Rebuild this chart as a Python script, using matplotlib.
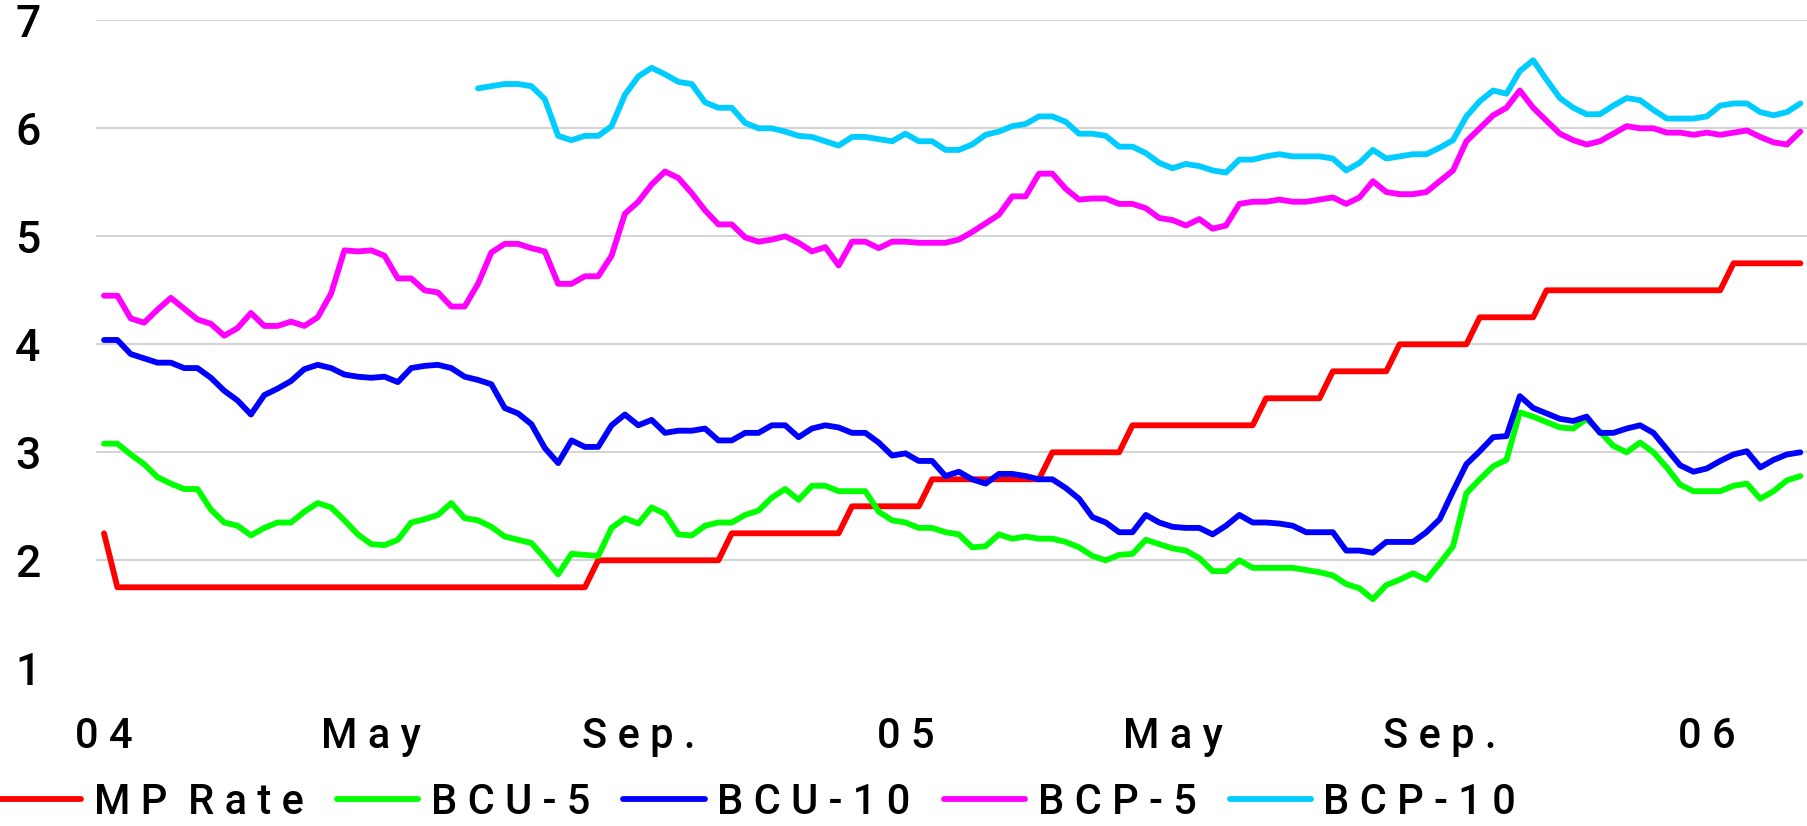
import numpy as np
import matplotlib
matplotlib.use("Agg")
import matplotlib.pyplot as plt
from matplotlib import font_manager

# categories: 128 observations, label every 20th
tick_idx = [0, 20, 40, 60, 80, 100, 120]
tick_labels = ["0 4", "M a y", "S e p .", "0 5", "M a y", "S e p .", "0 6"]

mp_rate = ([2.25] + [1.75] * 36 + [2.0] * 10 + [2.25] * 9 + [2.5] * 6 + [2.75] * 9
           + [3.0] * 6 + [3.25] * 10 + [3.5] * 5 + [3.75] * 5 + [4.0] * 6 + [4.25] * 5
           + [4.5] * 14 + [4.75] * 6)

bcu5 = [3.08, 3.08, 2.98, 2.89, 2.77, 2.71, 2.66, 2.66, 2.47, 2.35,
        2.32, 2.23, 2.30, 2.35, 2.35, 2.45, 2.53, 2.49, 2.37, 2.24,
        2.15, 2.14, 2.19, 2.35, 2.38, 2.42, 2.53, 2.39, 2.37, 2.31,
        2.22, 2.19, 2.16, 2.02, 1.87, 2.06, 2.05, 2.04, 2.30, 2.39,
        2.34, 2.49, 2.43, 2.24, 2.23, 2.32, 2.35, 2.35, 2.42, 2.46,
        2.58, 2.66, 2.56, 2.69, 2.69, 2.64, 2.64, 2.64, 2.45, 2.37,
        2.35, 2.30, 2.30, 2.26, 2.24, 2.12, 2.13, 2.24, 2.20, 2.22,
        2.20, 2.20, 2.17, 2.12, 2.04, 2.00, 2.05, 2.06, 2.19, 2.15,
        2.11, 2.09, 2.02, 1.90, 1.90, 2.00, 1.93, 1.93, 1.93, 1.93,
        1.91, 1.89, 1.86, 1.78, 1.74, 1.64, 1.77, 1.82, 1.88, 1.82,
        1.97, 2.13, 2.62, 2.75, 2.87, 2.93, 3.37, 3.33, 3.28, 3.23,
        3.22, 3.31, 3.19, 3.06, 3.00, 3.09, 3.00, 2.86, 2.70, 2.64,
        2.64, 2.64, 2.69, 2.71, 2.57, 2.64, 2.74, 2.78]

bcu10 = [4.04, 4.04, 3.91, 3.87, 3.83, 3.83, 3.78, 3.78, 3.69, 3.57,
         3.48, 3.35, 3.53, 3.59, 3.66, 3.77, 3.81, 3.78, 3.72, 3.70,
         3.69, 3.70, 3.65, 3.78, 3.80, 3.81, 3.78, 3.70, 3.67, 3.63,
         3.41, 3.36, 3.26, 3.04, 2.90, 3.11, 3.05, 3.05, 3.25, 3.35,
         3.25, 3.30, 3.18, 3.20, 3.20, 3.22, 3.11, 3.11, 3.18, 3.18,
         3.25, 3.25, 3.14, 3.22, 3.25, 3.23, 3.18, 3.18, 3.09, 2.97,
         2.99, 2.92, 2.92, 2.78, 2.82, 2.75, 2.71, 2.80, 2.80, 2.78,
         2.75, 2.75, 2.67, 2.57, 2.40, 2.35, 2.26, 2.26, 2.42, 2.35,
         2.31, 2.30, 2.30, 2.24, 2.32, 2.42, 2.35, 2.35, 2.34, 2.32,
         2.26, 2.26, 2.26, 2.09, 2.09, 2.07, 2.17, 2.17, 2.17, 2.26,
         2.38, 2.64, 2.89, 3.01, 3.14, 3.15, 3.52, 3.41, 3.36, 3.31,
         3.29, 3.33, 3.18, 3.18, 3.22, 3.25, 3.18, 3.03, 2.88, 2.82,
         2.85, 2.92, 2.98, 3.01, 2.86, 2.93, 2.98, 3.00]

bcp5 = [4.45, 4.45, 4.24, 4.20, 4.32, 4.43, 4.33, 4.23, 4.19, 4.08,
        4.15, 4.29, 4.17, 4.17, 4.21, 4.17, 4.25, 4.47, 4.87, 4.86,
        4.87, 4.82, 4.61, 4.61, 4.50, 4.48, 4.35, 4.35, 4.56, 4.85,
        4.93, 4.93, 4.89, 4.86, 4.56, 4.56, 4.63, 4.63, 4.82, 5.21,
        5.32, 5.48, 5.60, 5.54, 5.40, 5.24, 5.11, 5.11, 4.99, 4.95,
        4.97, 5.00, 4.94, 4.86, 4.90, 4.73, 4.95, 4.95, 4.89, 4.95,
        4.95, 4.94, 4.94, 4.94, 4.97, 5.04, 5.12, 5.20, 5.37, 5.37,
        5.58, 5.58, 5.44, 5.34, 5.35, 5.35, 5.30, 5.30, 5.26, 5.17,
        5.15, 5.10, 5.16, 5.07, 5.10, 5.30, 5.32, 5.32, 5.34, 5.32,
        5.32, 5.34, 5.36, 5.30, 5.36, 5.51, 5.41, 5.39, 5.39, 5.41,
        5.51, 5.61, 5.88, 6.00, 6.12, 6.19, 6.35, 6.19, 6.07, 5.95,
        5.89, 5.85, 5.88, 5.95, 6.02, 6.00, 6.00, 5.96, 5.96, 5.94,
        5.96, 5.94, 5.96, 5.98, 5.92, 5.87, 5.85, 5.97]

# BCP-10 has no data for the first 28 observations
bcp10 = [np.nan] * 28 + [
    6.37, 6.39, 6.41, 6.41, 6.39, 6.27, 5.93, 5.89, 5.93, 5.93, 6.02, 6.31,
    6.48, 6.56, 6.50, 6.43, 6.41, 6.24, 6.19, 6.19, 6.05, 6.00,
    6.00, 5.97, 5.93, 5.92, 5.88, 5.84, 5.92, 5.92, 5.90, 5.88,
    5.95, 5.88, 5.88, 5.80, 5.80, 5.85, 5.94, 5.97, 6.02, 6.04,
    6.11, 6.11, 6.06, 5.95, 5.95, 5.93, 5.83, 5.83, 5.77, 5.68,
    5.63, 5.67, 5.65, 5.61, 5.59, 5.71, 5.71, 5.74, 5.76, 5.74,
    5.74, 5.74, 5.72, 5.61, 5.68, 5.80, 5.72, 5.74, 5.76, 5.76,
    5.82, 5.89, 6.11, 6.25, 6.35, 6.32, 6.53, 6.63, 6.45, 6.28,
    6.19, 6.13, 6.13, 6.21, 6.28, 6.26, 6.17, 6.09, 6.09, 6.09,
    6.11, 6.21, 6.23, 6.23, 6.15, 6.12, 6.15, 6.23]

series = [
    ("M P  R a t e", mp_rate, "#ff0000"),
    ("B C U - 5", bcu5, "#00ff00"),
    ("B C U - 1 0", bcu10, "#0000ff"),
    ("B C P - 5", bcp5, "#ff00ff"),
    ("B C P - 1 0", bcp10, "#00ccff"),
]

# a slightly narrow, heavier sans looks closest
names = {f.name for f in font_manager.fontManager.ttflist}
fam = "Roboto" if "Roboto" in names else "Liberation Sans"
plt.rcParams["font.family"] = [fam, "DejaVu Sans"]
plt.rcParams["font.weight"] = "medium"

W, H = 1807, 826
fig = plt.figure(figsize=(W / 100, H / 100), dpi=100)
ax = fig.add_axes([96 / W, 1 - 668.3 / H, 1 - 96 / W, (668.3 - 20.3) / H])

x = np.arange(len(bcu5))
handles = []
for label, vals, color in series:
    h, = ax.plot(x, vals, color=color, lw=4.2, label=label,
                 solid_capstyle="round", solid_joinstyle="round")
    handles.append(h)

ax.set_xlim(-0.6, 127.5)
ax.set_ylim(1, 7)
ax.set_yticks(range(1, 8))
ax.set_xticks(tick_idx)
ax.set_xticklabels(tick_labels)
for s in ax.spines.values():
    s.set_visible(False)
ax.tick_params(axis="y", length=0, pad=40, labelsize=32)
ax.tick_params(axis="x", length=0, pad=34, labelsize=30)
ax.yaxis.grid(True, color="#c8c8c8", lw=1.1)
ax.yaxis.get_gridlines()[0].set_visible(False)
ax.set_axisbelow(True)

fig.legend(handles=handles, loc="center left", bbox_to_anchor=(0.0, 1 - 802 / H),
           ncol=5, frameon=False, fontsize=30, handlelength=1.95,
           handletextpad=0.3, columnspacing=0.8, borderpad=0, borderaxespad=0)

fig.savefig("out.png", dpi=100)
